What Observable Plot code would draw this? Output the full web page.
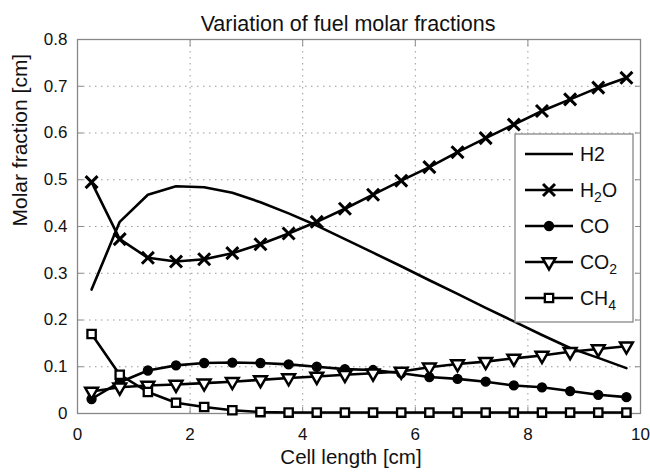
<!DOCTYPE html>
<html>
<head>
<meta charset="utf-8">
<script src="https://cdn.jsdelivr.net/npm/d3@7"></script>
<script src="https://cdn.jsdelivr.net/npm/@observablehq/plot@0.6"></script>
<style>
  html, body { margin: 0; padding: 0; background: #fff; }
  #chart { width: 650px; height: 475px; }
</style>
</head>
<body>
<div id="chart"></div>
<script>
// ---- data ----
const cellLength = [0.25, 0.75, 1.25, 1.75, 2.25, 2.75, 3.25, 3.75, 4.25, 4.75,
                    5.25, 5.75, 6.25, 6.75, 7.25, 7.75, 8.25, 8.75, 9.25, 9.75];
const h2  = [0.265, 0.410, 0.468, 0.486, 0.484, 0.472, 0.452, 0.428, 0.402, 0.373,
             0.344, 0.315, 0.285, 0.256, 0.226, 0.197, 0.168, 0.140, 0.119, 0.097];
const h2o = [0.495, 0.373, 0.333, 0.325, 0.330, 0.343, 0.362, 0.385, 0.410, 0.438,
             0.468, 0.498, 0.527, 0.559, 0.589, 0.618, 0.647, 0.672, 0.697, 0.718];
const co  = [0.031, 0.067, 0.092, 0.103, 0.108, 0.109, 0.108, 0.105, 0.100, 0.095,
             0.093, 0.086, 0.078, 0.074, 0.068, 0.060, 0.056, 0.048, 0.040, 0.035];
const co2 = [0.047, 0.056, 0.060, 0.062, 0.065, 0.068, 0.072, 0.076, 0.079, 0.083,
             0.086, 0.090, 0.099, 0.106, 0.111, 0.118, 0.124, 0.132, 0.138, 0.144];
const ch4 = [0.170, 0.083, 0.046, 0.023, 0.014, 0.007, 0.003, 0.002, 0.002, 0.002,
             0.002, 0.002, 0.002, 0.002, 0.002, 0.002, 0.002, 0.002, 0.002, 0.002];

const xTicks = [0, 2, 4, 6, 8, 10];
const yTicks = [0, 0.1, 0.2, 0.3, 0.4, 0.5, 0.6, 0.7, 0.8];
const seriesNames = ["H2", "H2O", "CO", "CO2", "CH4"];
// legend label parts: [text, subscript, text after]
const legendLabels = [["H2", "", ""], ["H", "2", "O"], ["CO", "", ""], ["CO", "2", ""], ["CH", "4", ""]];

const titleText = "Variation of fuel molar fractions";
const xLabel = "Cell length [cm]";
const yLabel = "Molar fraction [cm]";

// ---- build table ----
const valuesBySeries = {H2: h2, H2O: h2o, CO: co, CO2: co2, CH4: ch4};
const rows = seriesNames.flatMap(s => cellLength.map((x, i) => ({series: s, x, y: valuesBySeries[s][i]})));
const of = s => rows.filter(d => d.series === s);

// custom downward triangle
const triangleDown = {
  draw(context, size) {
    const s = Math.sqrt(size / 0.6);
    const h = s * Math.sqrt(3) / 2;
    context.moveTo(-s / 2, -h / 3);
    context.lineTo(s / 2, -h / 3);
    context.lineTo(0, 2 * h / 3);
    context.closePath();
  }
};

const font = "'Liberation Sans', Arial, Helvetica, sans-serif";
const lineW = 2.6;

const plot = Plot.plot({
  width: 650,
  height: 475,
  marginLeft: 77,
  marginRight: 10,
  marginTop: 39,
  marginBottom: 62,
  style: {fontFamily: font, fontSize: "17px", background: "white", color: "#111"},
  x: {domain: [0, 10]},
  y: {domain: [0, 0.8]},
  marks: [
    Plot.gridX(xTicks.slice(1, -1), {stroke: "#999", strokeOpacity: 1, strokeDasharray: "1.5,4.5"}),
    Plot.gridY(yTicks.slice(1, -1), {stroke: "#999", strokeOpacity: 1, strokeDasharray: "1.5,4.5"}),
    Plot.frame({stroke: "#888", strokeWidth: 1.3}),
    Plot.axisX(xTicks, {anchor: "bottom", tickSize: -6, tickPadding: 20, stroke: "#888", label: null, tickFormat: d => String(d)}),
    Plot.axisX(xTicks, {anchor: "top", tickSize: -6, stroke: "#888", label: null, tickFormat: () => ""}),
    Plot.axisY(yTicks, {anchor: "left", tickSize: -6, tickPadding: 16, stroke: "#888", label: null, tickFormat: d => d === 0 ? "0" : d3.format(".1f")(d)}),
    Plot.axisY(yTicks, {anchor: "right", tickSize: -6, stroke: "#888", label: null, tickFormat: () => ""}),
    // lines
    ...seriesNames.map(s => Plot.line(of(s), {x: "x", y: "y", stroke: "black", strokeWidth: lineW})),
    // markers
    Plot.dot(of("H2O"), {x: "x", y: "y", symbol: "times", r: 5.5, stroke: "black", strokeWidth: 3}),
    Plot.dot(of("CO"), {x: "x", y: "y", symbol: "circle", r: 4.4, fill: "black", stroke: "black"}),
    Plot.dot(of("CO2"), {x: "x", y: "y", symbol: triangleDown, r: 5.6, fill: "white", stroke: "black", strokeWidth: 2.5}),
    Plot.dot(of("CH4"), {x: "x", y: "y", symbol: "square", r: 4.7, fill: "white", stroke: "black", strokeWidth: 2.3}),
    // titles
    Plot.text([titleText], {frameAnchor: "top", dy: -23.5, dx: -11, fontSize: 21.5, fill: "#111"}),
    Plot.text([xLabel], {frameAnchor: "bottom", dy: 50, dx: -8, fontSize: 20.5, fill: "#111"}),
    Plot.text([yLabel], {frameAnchor: "left", dx: -57, rotate: -90, fontSize: 21, fill: "#111"})
  ]
});

document.getElementById("chart").appendChild(plot);

// ---- legend (inside the plot area, top right) ----
const svg = d3.select(plot);
const lg = svg.append("g").attr("font-family", font).attr("font-size", 19.5)
  .attr("fill", "#111").attr("text-anchor", "start");
const box = {x: 515, y: 134, w: 118, h: 188};
lg.append("rect").attr("x", box.x).attr("y", box.y).attr("width", box.w).attr("height", box.h)
  .attr("fill", "white").attr("stroke", "#888").attr("stroke-width", 1.3);
const symDefs = [
  null,
  {type: d3.symbolTimes, size: Math.PI * 5.5 * 5.5, fill: "none", sw: 3},
  {type: d3.symbolCircle, size: Math.PI * 4.4 * 4.4, fill: "black", sw: 1.5},
  {type: triangleDown, size: Math.PI * 5.6 * 5.6, fill: "white", sw: 2.5},
  {type: d3.symbolSquare, size: Math.PI * 4.7 * 4.7, fill: "white", sw: 2.3}
];
seriesNames.forEach((s, i) => {
  const cy = 154 + i * 36;
  lg.append("line").attr("x1", 525).attr("x2", 573).attr("y1", cy).attr("y2", cy)
    .attr("stroke", "black").attr("stroke-width", lineW);
  const sd = symDefs[i];
  if (sd) {
    lg.append("path").attr("d", d3.symbol(sd.type, sd.size)())
      .attr("transform", `translate(549,${cy})`)
      .attr("fill", sd.fill).attr("stroke", "black").attr("stroke-width", sd.sw);
  }
  const [a, sub, b] = legendLabels[i];
  const t = lg.append("text").attr("x", 580).attr("y", cy + 7);
  t.append("tspan").text(a);
  if (sub) t.append("tspan").attr("dy", 5).attr("font-size", 14).text(sub);
  if (b) t.append("tspan").attr("dy", -5).text(b);
});
</script>
</body>
</html>
